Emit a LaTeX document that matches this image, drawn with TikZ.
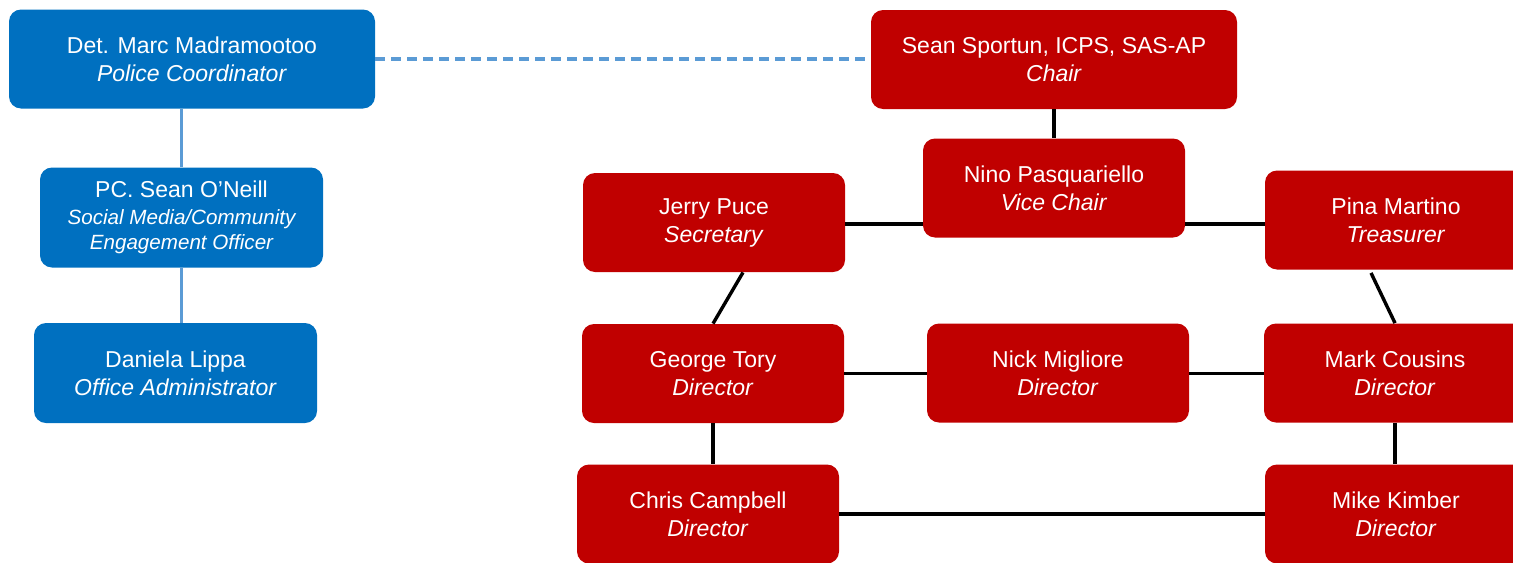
\documentclass[tikz,border=0pt]{standalone}
\usepackage{fontspec}
\setmainfont{Liberation Sans}
\usepackage{xcolor}
\usepackage{tikz}
\usetikzlibrary{positioning}
\definecolor{polblue}{HTML}{0070C0}
\definecolor{linkblue}{HTML}{5B9BD5}
\definecolor{brdred}{HTML}{C00000}
\newcommand{\rolesm}[1]{{\fontsize{10.3}{12.5}\selectfont\itshape #1}}

\begin{document}
\begin{tikzpicture}[
  x=0.5pt,y=-0.5pt,
  box/.style={rounded corners=6pt,align=center,text=white,inner sep=0pt,font=\fontsize{11.5}{14}\selectfont},
  wide/.style={box,minimum width=183pt,minimum height=49.5pt},
  mid/.style={box,minimum width=141.5pt,minimum height=50pt},
  slim/.style={box,minimum width=131pt,minimum height=49.5pt},
  pol/.style={fill=polblue},
  brd/.style={fill=brdred},
  polline/.style={draw=linkblue,line width=1.7pt},
  brdline/.style={draw=black,line width=1.7pt}
]
\useasboundingbox (0,0) rectangle (1513,562);
\clip (0,0) rectangle (1513,562);
% police side
\node[wide,pol] (coord) at (192,59) {Det. Marc Madramootoo\\\textit{Police Coordinator}};
\node[mid,pol] (social) at (181.5,217.5) {PC. Sean O’Neill\\[-0.5pt]\rolesm{Social Media/Community}\\[-1.5pt]\rolesm{Engagement Officer}};
\node[mid,pol] (admin) at (175.5,373) {Daniela Lippa\\\textit{Office Administrator}};
% board
\node[wide,brd] (chair) at (1054,59.5) {Sean Sportun, ICPS, SAS-AP\\\textit{Chair}};
\node[slim,brd] (vice) at (1054,188) {Nino Pasquariello\\\textit{Vice Chair}};
\node[slim,brd] (secr) at (714,222.5) {Jerry Puce\\\textit{Secretary}};
\node[slim,brd] (treas) at (1396,220) {Pina Martino\\\textit{Treasurer}};
\node[slim,brd] (tory) at (713,373.5) {George Tory\\\textit{Director}};
\node[slim,brd] (migl) at (1058,373) {Nick Migliore\\\textit{Director}};
\node[slim,brd] (cous) at (1395,373) {Mark Cousins\\\textit{Director}};
\node[slim,brd] (camp) at (708,514) {Chris Campbell\\\textit{Director}};
\node[slim,brd] (kimb) at (1396,514) {Mike Kimber\\\textit{Director}};
% links
\draw[polline,dash pattern=on 5pt off 3pt] (coord.east) -- (coord.east -| chair.west);
\draw[polline] (social.north |- coord.south) -- (social.north);
\draw[polline] (social.south) -- (social.south |- admin.north);
\draw[brdline] (chair.south) -- (vice.north);
\draw[brdline] ([yshift=-0.75pt]secr.east) -- ([yshift=-0.75pt]secr.east -| vice.west);
\draw[brdline] ([yshift=-0.75pt]vice.east |- secr.east) -- ([yshift=-0.75pt]treas.west |- secr.east);
\draw[brdline] ([xshift=14.5pt]secr.south) -- (tory.north);
\draw[brdline] ([xshift=-12.5pt,yshift=-1.5pt]treas.south) -- (cous.north);
\draw[brdline] (tory.east) -- (tory.east -| migl.west);
\draw[brdline] (migl.east |- tory.east) -- (cous.west |- tory.east);
\draw[brdline] (tory.south) -- (tory.south |- camp.north);
\draw[brdline] (cous.south) -- (cous.south |- kimb.north);
\draw[brdline] (camp.east) -- (kimb.west);
\end{tikzpicture}
\end{document}
